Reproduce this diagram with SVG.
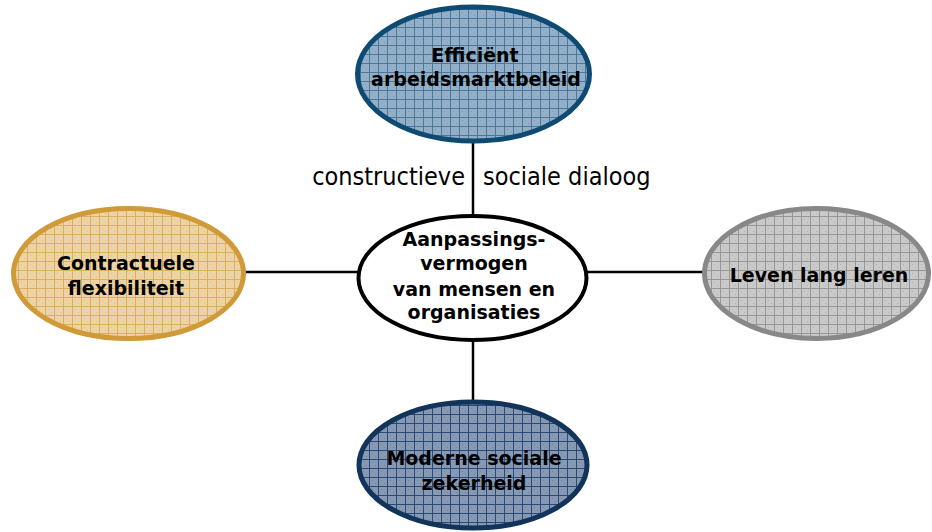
<svg xmlns="http://www.w3.org/2000/svg" width="932" height="532" viewBox="0 0 932 532">
<style>
.lbl{font-family:"DejaVu Sans","Liberation Sans",sans-serif;font-weight:bold;font-size:19px;fill:#000;text-anchor:middle}
.plain{font-family:"DejaVu Sans Condensed","DejaVu Sans","Liberation Sans",sans-serif;font-size:25px;fill:#000}
.conn{stroke:#000;stroke-width:2.5;fill:none}
</style>
<defs>
<pattern id="pBlue" width="9" height="9" patternUnits="userSpaceOnUse">
<rect width="9" height="9" fill="#93B0C8"/>
<path d="M0 0.5H9M0.5 0V9" stroke="#4A779B" stroke-width="1"/>
<rect x="3" y="3" width="1" height="1" fill="#7D9DB8"/><rect x="6" y="6" width="1" height="1" fill="#7D9DB8"/>
</pattern>
<pattern id="pNavy" width="9" height="9" patternUnits="userSpaceOnUse">
<rect width="9" height="9" fill="#8799B3"/>
<path d="M0 0.5H9M0.5 0V9" stroke="#294A76" stroke-width="1"/>
<rect x="3" y="3" width="1" height="1" fill="#6F84A3"/><rect x="6" y="6" width="1" height="1" fill="#6F84A3"/>
</pattern>
<pattern id="pGold" width="9" height="9" patternUnits="userSpaceOnUse">
<rect width="9" height="9" fill="#EDD4A6"/>
<path d="M0 0.5H9M0.5 0V9" stroke="#DAAE5C" stroke-width="1"/>
<rect x="3" y="3" width="1" height="1" fill="#E2BF80"/><rect x="6" y="6" width="1" height="1" fill="#E2BF80"/>
</pattern>
<pattern id="pGray" width="9" height="9" patternUnits="userSpaceOnUse">
<rect width="9" height="9" fill="#CACACA"/>
<path d="M0 0.5H9M0.5 0V9" stroke="#969696" stroke-width="1"/>
<rect x="3" y="3" width="1" height="1" fill="#B0B0B0"/><rect x="6" y="6" width="1" height="1" fill="#B0B0B0"/>
</pattern>
</defs>
<rect width="932" height="532" fill="#fff"/>
<g id="connectors">
<line class="conn" x1="473" y1="142" x2="473" y2="216"/>
<line class="conn" x1="473" y1="340" x2="473" y2="402"/>
<line class="conn" x1="244" y1="272" x2="358" y2="272"/>
<line class="conn" x1="587" y1="272" x2="704" y2="272"/>
</g>
<g id="dialoog">
<text class="plain" x="465" y="185" text-anchor="end">constructieve</text>
<text class="plain" x="483" y="185">sociale dialoog</text>
</g>
<g id="arbeidsmarkt">
<ellipse cx="473.5" cy="74" rx="116" ry="67" fill="url(#pBlue)" stroke="#0F4A72" stroke-width="5"/>
<text class="lbl" x="475" y="62">Efficiënt</text>
<text class="lbl" x="476" y="86">arbeidsmarktbeleid</text>
</g>
<g id="flexibiliteit">
<ellipse cx="128.5" cy="273.5" rx="115" ry="65" fill="url(#pGold)" stroke="#D09A38" stroke-width="5"/>
<text class="lbl" x="126" y="270">Contractuele</text>
<text class="lbl" x="126" y="295">flexibiliteit</text>
</g>
<g id="leren">
<ellipse cx="816.5" cy="273.5" rx="112" ry="65" fill="url(#pGray)" stroke="#888888" stroke-width="5"/>
<text class="lbl" x="819" y="282">Leven lang leren</text>
</g>
<g id="centrum">
<ellipse cx="472.5" cy="278" rx="114" ry="62" fill="#fff" stroke="#000" stroke-width="4"/>
<text class="lbl" x="474" y="246">Aanpassings-</text>
<text class="lbl" x="474" y="270">vermogen</text>
<text class="lbl" x="474" y="296">van mensen en</text>
<text class="lbl" x="474" y="319">organisaties</text>
</g>
<g id="zekerheid">
<ellipse cx="473" cy="465" rx="114" ry="63" fill="url(#pNavy)" stroke="#12335A" stroke-width="5"/>
<text class="lbl" x="474" y="465">Moderne sociale</text>
<text class="lbl" x="474" y="490">zekerheid</text>
</g>
</svg>
